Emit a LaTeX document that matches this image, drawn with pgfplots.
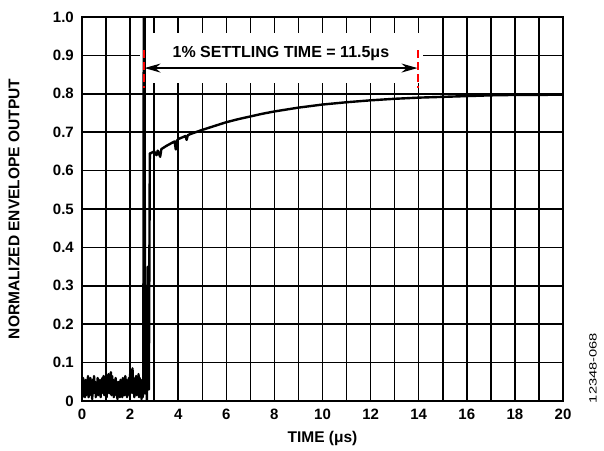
\documentclass[border=0pt]{standalone}
\usepackage{fontspec}
\setmainfont{Liberation Sans}
\usepackage{graphicx}
\usepackage{pgfplots}
\pgfplotsset{compat=1.18}
\usetikzlibrary{arrows.meta}
\begin{document}
\fontsize{15}{18}\selectfont
\begin{tikzpicture}
\begin{axis}[
 set layers=standard,
 scale only axis, width=481pt, height=384pt,
 xmin=0, xmax=20, ymin=0, ymax=1,
 xtick={0,2,4,6,8,10,12,14,16,18,20},
 ytick={0,0.1,0.2,0.3,0.4,0.5,0.6,0.7,0.8,0.9,1.0},
 yticklabels={0,0.1,0.2,0.3,0.4,0.5,0.6,0.7,0.8,0.9,1.0},
 minor x tick num=1,
 grid=both,
 grid style={black, line width=1.5pt},
 major grid style={black, line width=1.5pt},
 minor grid style={black, line width=1.5pt},
 major tick length=0pt, minor tick length=0pt,
 axis line style={black, line width=2pt},
 /pgf/number format/assume math mode=true,
 tick label style={font=\bfseries\fontsize{15}{17}\selectfont},
 xticklabel style={yshift=-3pt},
 yticklabel style={xshift=-3pt},
 xlabel={TIME (μs)},
 ylabel={NORMALIZED ENVELOPE OUTPUT},
 label style={font=\bfseries\fontsize{15.5}{18}\selectfont},
 xlabel style={at={(rel axis cs:0.5,0)}, anchor=center, yshift=-37pt},
 ylabel style={at={(rel axis cs:0,0.5)}, anchor=center, yshift=68pt},
]
\coordinate (bl) at (rel axis cs:0,0);
\coordinate (br) at (rel axis cs:1,0);
\coordinate (tr) at (rel axis cs:1,1);
\begin{pgfonlayer}{pre main}
\fill[white] (axis cs:2.41,0.828) rectangle (axis cs:14.18,0.958);
\end{pgfonlayer}
\addplot[black, line width=2.4pt, line join=round] coordinates {
(0.000,0.04) (0.025,0.01) (0.05,0.06) (0.075,0.02) (0.1,0.05) (0.125,0.01)
(0.15,0.055) (0.175,0.015) (0.2,0.045) (0.225,0.03) (0.25,0.065) (0.275,0.01)
(0.3,0.05) (0.325,0.02) (0.35,0.06) (0.375,0.015) (0.4,0.04) (0.425,0.005)
(0.45,0.055) (0.475,0.02) (0.5,0.065) (0.525,0.025) (0.55,0.05) (0.575,0.01)
(0.6,0.045) (0.625,0.02) (0.65,0.06) (0.675,0.015) (0.7,0.05) (0.725,0.03)
(0.75,0.055) (0.775,0.01) (0.8,0.045) (0.825,0.02) (0.85,0.06) (0.875,0.025)
(0.9,0.065) (0.925,0.015) (0.95,0.05) (0.975,0.02) (1.0,0.06) (1.025,0.01)
(1.05,0.055) (1.075,0.025) (1.1,0.07) (1.125,0.02) (1.15,0.06) (1.175,0.03)
(1.2,0.075) (1.225,0.015) (1.25,0.065) (1.275,0.02) (1.3,0.055) (1.325,0.01)
(1.35,0.05) (1.375,0.02) (1.4,0.06) (1.425,0.015) (1.45,0.045) (1.475,0.005)
(1.5,0.05) (1.525,0.02) (1.55,0.04) (1.575,0.01) (1.6,0.055) (1.625,0.02)
(1.65,0.045) (1.675,0.01) (1.7,0.06) (1.725,0.025) (1.75,0.05) (1.775,0.015)
(1.8,0.065) (1.825,0.02) (1.85,0.055) (1.875,0.01) (1.9,0.05) (1.925,0.025)
(1.95,0.06) (1.975,0.015) (2.0,0.07) (2.025,0.02) (2.05,0.08) (2.075,0.03)
(2.1,0.085) (2.125,0.02) (2.15,0.06) (2.175,0.01) (2.2,0.055) (2.225,0.025)
(2.25,0.065) (2.275,0.015) (2.3,0.05) (2.325,0.02) (2.35,0.07) (2.375,0.01)
(2.4,0.06) (2.425,0.02) (2.45,0.055) (2.475,0.005) (2.5,0.05) (2.525,0.01)
(2.55,0.04) (2.57,1.1) (2.60,1.1) (2.62,0.02) (2.66,0.3) (2.70,0.0)
(2.74,0.35) (2.78,0.03) (2.82,0.645) (2.85,0.645) (3.0,0.650) (3.1,0.640)
(3.15,0.652) (3.25,0.636) (3.3,0.656) (3.5,0.664) (3.85,0.676) (3.9,0.655)
(3.95,0.678) (4.0,0.682) (4.3,0.690) (4.35,0.680) (4.4,0.692) (4.5,0.695)
(5.0,0.706) (5.5,0.716) (6.0,0.726) (6.5,0.734) (7.0,0.741) (7.5,0.748)
(8.0,0.754) (8.5,0.759) (9.0,0.764) (9.5,0.768) (10,0.772) (11,0.778)
(12,0.783) (13,0.787) (14,0.790) (15,0.792) (16,0.794) (17,0.796)
(18,0.797) (19,0.797) (20,0.798)
};
\draw[red, line width=2pt, dash pattern=on 8pt off 4pt] (axis cs:2.56,0.914) -- (axis cs:2.56,0.815);
\draw[red, line width=2pt, dash pattern=on 8pt off 4pt] (axis cs:13.95,0.914) -- (axis cs:13.95,0.815);
\draw[{Stealth[length=16pt,width=9pt]}-{Stealth[length=16pt,width=9pt]}, line width=1.5pt]
 (axis cs:2.6,0.867) -- (axis cs:13.95,0.867);
\node[font=\bfseries\fontsize{16}{18}\selectfont] at (axis cs:8.27,0.904) {1\% SETTLING TIME = 11.5μs};
\end{axis}
\node[rotate=90] at ([xshift=30pt,yshift=33pt]br) {\scalebox{1.4}[1]{\fontsize{10.5}{12}\selectfont 12348-068}};
\pgfresetboundingbox
\useasboundingbox ([xshift=-82pt,yshift=-50pt]bl) rectangle ([xshift=41pt,yshift=17pt]tr);
\end{tikzpicture}
\end{document}
